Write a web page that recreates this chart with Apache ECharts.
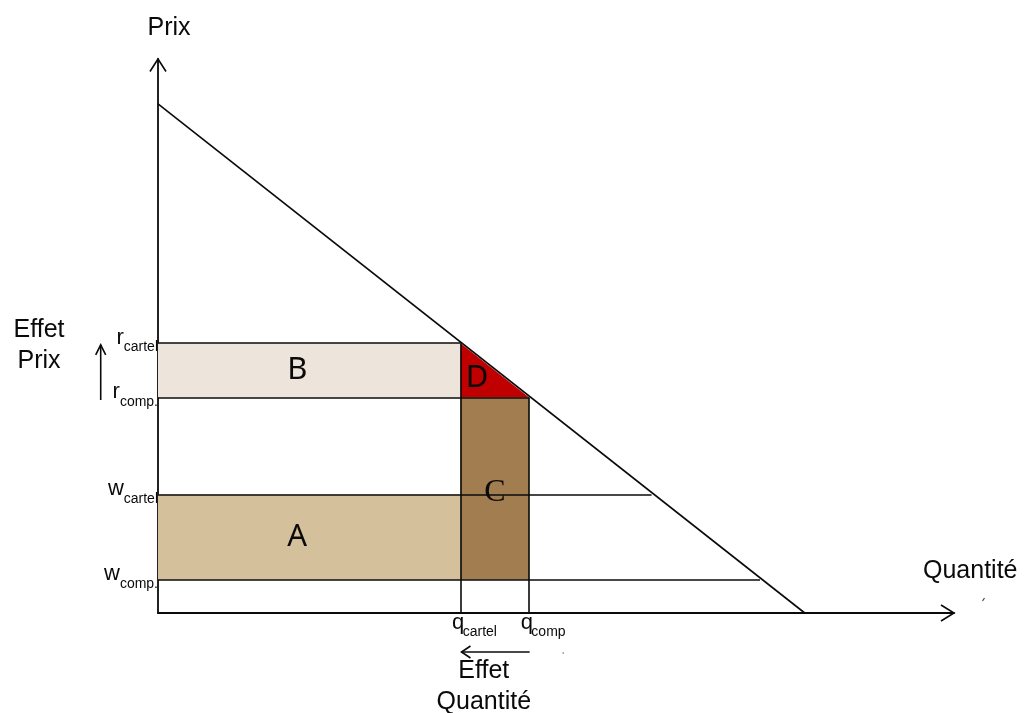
<!DOCTYPE html>
<html>
<head>
<meta charset="utf-8">
<title>Cartel : effet prix et effet quantité</title>
<script src="https://cdn.jsdelivr.net/npm/echarts@6/dist/echarts.min.js"></script>
<style>
  html, body { margin: 0; padding: 0; background: #fff; }
  #chart { width: 1024px; height: 713px; }
</style>
</head>
<body>
<div id="chart"></div>
<script>
// courbe de demande : extrémités (quantité, prix)
const demand = [[0, 91.9], [65, 0]]
// quantités q
const qNames = ['cartel', 'comp']
const qValues = [30.4, 37.3]
// niveaux r
const rNames = ['cartel', 'comp.']
const rValues = [48.7, 38.9]
// niveaux w
const wNames = ['cartel', 'comp.']
const wValues = [21.4, 6.0]
// fin à droite des lignes w (sur la demande)
const wEnds = [49.6, 60.5]
// surfaces
const areaNames = ['A', 'B', 'C', 'D']
// bornes des axes
const axisMax = [80, 100]

const [qCartel, qComp] = qValues
const [rCartel, rComp] = rValues
const [wCartel, wComp] = wValues

// rectangles [x0, x1, y0, y1] : A, B, C
const rects = [
  [0, qCartel, wComp, wCartel],
  [0, qCartel, rComp, rCartel],
  [qCartel, qComp, wComp, rComp]
]
// triangle D
const triangle = [[qCartel, rCartel, qComp, rComp]]

// lignes de repère
const guides = [
  [[0, rCartel], [qCartel, rCartel]],
  [[0, rComp], [qComp, rComp]],
  [[0, wCartel], [wEnds[0], wCartel]],
  [[0, wComp], [wEnds[1], wComp]],
  [[qCartel, rCartel], [qCartel, 0]],
  [[qComp, rComp], [qComp, 0]]
]

const yTicks = rValues.map((v, i) => ({ value: v, main: 'r', sub: rNames[i] }))
  .concat(wValues.map((v, i) => ({ value: v, main: 'w', sub: wNames[i] })))
const xTicks = qValues.map((v, i) => ({ value: v, main: 'q', sub: qNames[i] }))

const FONT = "'Liberation Sans', Arial, sans-serif"
const INK = '#0a0a0a'
const areaColors = ['#d4c19c', '#ede5db', '#a27d50']
const labelShift = [[-12, 0], [-12, 0], [0, 4]]

const measure = (function () {
  const ctx = document.createElement('canvas').getContext('2d')
  return function (text, size) {
    ctx.font = size + 'px ' + FONT
    return ctx.measureText(text).width
  }
})()

function txt(text, x, y, size, align, family) {
  return {
    type: 'text', x: x, y: y,
    style: {
      text: text, fontSize: size, fontFamily: family || FONT, fill: INK,
      align: align || 'center', verticalAlign: 'middle'
    }
  }
}

// flèche ouverte, la pointe en "to"
function arrow(from, to, len, half, withShaft) {
  const dx = to[0] - from[0], dy = to[1] - from[1]
  const d = Math.hypot(dx, dy)
  const ux = dx / d, uy = dy / d
  const bx = to[0] - ux * len, by = to[1] - uy * len
  const out = [{
    type: 'polyline',
    shape: { points: [[bx - uy * half, by + ux * half], to, [bx + uy * half, by - ux * half]] },
    style: { stroke: INK, lineWidth: 1.6, fill: 'none' }
  }]
  if (withShaft) {
    out.push({
      type: 'line',
      shape: { x1: from[0], y1: from[1], x2: to[0], y2: to[1] },
      style: { stroke: INK, lineWidth: 1.6, fill: 'none' }
    })
  }
  return out
}

const myChart = echarts.init(document.getElementById('chart'))

const option = {
  animation: false,
  backgroundColor: '#fff',
  grid: { left: 158, right: 70, top: 59, bottom: 100, outerBoundsMode: 'none' },
  xAxis: {
    type: 'value', min: 0, max: axisMax[0],
    axisLine: { show: true, onZero: false, lineStyle: { color: INK, width: 1.8 } },
    axisTick: { show: false }, axisLabel: { show: false }, splitLine: { show: false }
  },
  yAxis: {
    type: 'value', min: 0, max: axisMax[1],
    axisLine: { show: true, onZero: false, lineStyle: { color: INK, width: 1.8 } },
    axisTick: { show: false }, axisLabel: { show: false }, splitLine: { show: false }
  },
  series: [
    {
      // surfaces A, B, C
      type: 'custom', z: 1, silent: true,
      data: rects,
      renderItem(params, api) {
        const i = params.dataIndex
        const tl = api.coord([api.value(0), api.value(3)])
        const br = api.coord([api.value(1), api.value(2)])
        const cx = (tl[0] + br[0]) / 2 + labelShift[i][0]
        const cy = (tl[1] + br[1]) / 2 + labelShift[i][1]
        const isC = i === 2
        return {
          type: 'group',
          children: [
            {
              type: 'rect',
              shape: { x: tl[0], y: tl[1], width: br[0] - tl[0], height: br[1] - tl[1] },
              style: { fill: areaColors[i] }
            },
            Object.assign(txt(areaNames[i], cx, cy, isC ? 32 : 31, 'center',
              isC ? "'Liberation Serif', serif" : "'Noto Sans', sans-serif"), { z2: 10 })
          ]
        }
      }
    },
    {
      // triangle D
      type: 'custom', z: 1, silent: true,
      data: triangle,
      renderItem(params, api) {
        const a = api.coord([api.value(0), api.value(1)])
        const b = api.coord([api.value(0), api.value(3)])
        const c = api.coord([api.value(2), api.value(3)])
        return {
          type: 'group',
          children: [
            { type: 'polygon', shape: { points: [a, b, c] }, style: { fill: '#c00000' } },
            txt(areaNames[3], b[0] + 16.5, (a[1] + b[1]) / 2 + 7.5, 31, 'center', "'Noto Sans', sans-serif")
          ]
        }
      }
    },
    {
      type: 'lines', coordinateSystem: 'cartesian2d', z: 3, silent: true,
      lineStyle: { color: INK, width: 1.6, opacity: 1 },
      data: guides.map(c => ({ coords: c }))
    },
    {
      type: 'lines', coordinateSystem: 'cartesian2d', z: 3, silent: true,
      lineStyle: { color: INK, width: 1.6, opacity: 1 },
      data: [{ coords: demand }]
    },
    {
      // étiquettes de l'axe des prix
      type: 'custom', z: 4, silent: true,
      data: yTicks.map(t => [0, t.value]),
      renderItem(params, api) {
        const t = yTicks[params.dataIndex]
        const p = api.coord([api.value(0), api.value(1)])
        const subW = measure(t.sub, 14)
        return {
          type: 'group',
          children: [
            txt(t.main, p[0] - subW, p[1] - 5.6, 22, 'right'),
            txt(t.sub, p[0], p[1] + 4.2, 14, 'right')
          ]
        }
      }
    },
    {
      // étiquettes de l'axe des quantités
      type: 'custom', z: 4, silent: true,
      data: xTicks.map(t => [t.value, 0]),
      renderItem(params, api) {
        const t = xTicks[params.dataIndex]
        const p = api.coord([api.value(0), api.value(1)])
        const left = p[0] - 8.5
        const mainW = measure(t.main, 22)
        return {
          type: 'group',
          children: [
            txt(t.main, left, p[1] + 10, 22, 'left'),
            txt(t.sub, left + mainW - 1.5, p[1] + 19, 14, 'left')
          ]
        }
      }
    },
    {
      // titres, flèches et effets
      type: 'custom', z: 4, silent: true,
      data: [[0, 0]],
      renderItem(params, api) {
        const o = api.coord([0, 0])
        const yTop = api.coord([0, axisMax[1]])
        const xEnd = api.coord([axisMax[0], 0])
        const rc = api.coord([0, rCartel])
        const rp = api.coord([0, rComp])
        const qc = api.coord([qCartel, 0])
        const qp = api.coord([qComp, 0])
        const ax = o[0] - 57.3
        const ay = o[1] + 39
        const midQ = (qc[0] + qp[0]) / 2 - 11
        const children = [].concat(
          arrow(o, yTop, 12.5, 8, false),
          arrow(o, xEnd, 13, 8, false),
          arrow([ax, rp[1] + 2.5], [ax, rc[1] + 1.7], 10, 5, true),
          arrow([qp[0] + 0.5, ay], [qc[0] + 1, ay], 9, 6, true),
          [
            txt('Prix', yTop[0] + 11, yTop[1] - 31, 25),
            txt('Quantité', xEnd[0] - 31, xEnd[1] - 41.7, 25, 'left'),
            txt('Effet', o[0] - 119, rc[1] - 12.7, 25),
            txt('Prix', o[0] - 119, rc[1] + 18, 25),
            txt('Effet', midQ, o[1] + 58.3, 25),
            txt('Quantité', midQ, o[1] + 89.3, 25),
            { type: 'circle', shape: { cx: qp[0] + 34, cy: ay + 1, r: 0.8 }, style: { fill: '#666' } },
            {
              type: 'line',
              shape: { x1: xEnd[0] + 30.5, y1: xEnd[1] - 15, x2: xEnd[0] + 28.5, y2: xEnd[1] - 12 },
              style: { stroke: '#444', lineWidth: 1.2, fill: 'none' }
            }
          ]
        )
        return { type: 'group', children: children }
      }
    }
  ]
}

myChart.setOption(option)
</script>
</body>
</html>
